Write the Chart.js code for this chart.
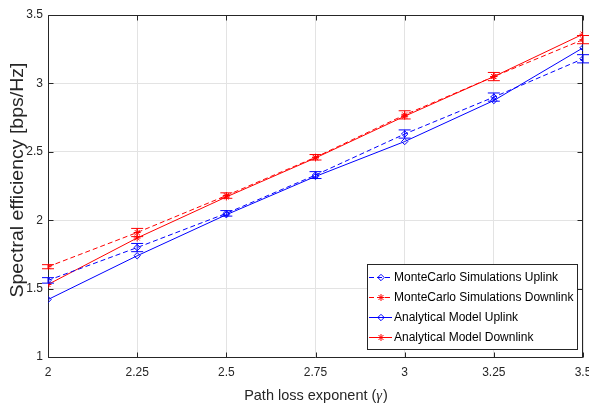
<!DOCTYPE html>
<html><head><meta charset="utf-8">
<script src="https://cdn.jsdelivr.net/npm/chart.js@4.4.0/dist/chart.umd.min.js"></script>
<style>html,body{margin:0;padding:0;background:#fff}#wrap{width:589px;height:407px}</style>
</head><body><div id="wrap"><canvas id="c" width="589" height="407"></canvas></div>
<script>
const pathLoss = [2, 2.25, 2.5, 2.75, 3, 3.25, 3.5];
const mcUplink = [1.56, 1.80, 2.05, 2.33, 2.63, 2.90, 3.18];
const mcDownlink = [1.66, 1.91, 2.18, 2.46, 2.77, 3.05, 3.32];
const anUplink = [1.42, 1.74, 2.04, 2.32, 2.575, 2.875, 3.26];
const anDownlink = [1.53, 1.87, 2.17, 2.455, 2.76, 3.05, 3.36];
const mcUplinkErr = [0.02, 0.03, 0.02, 0.025, 0.03, 0.03, 0.03];
const mcDownlinkErr = [0.015, 0.03, 0.02, 0.02, 0.03, 0.03, 0.03];
const xTicks = [2, 2.25, 2.5, 2.75, 3, 3.25, 3.5];
const yTicks = [1, 1.5, 2, 2.5, 3, 3.5];
const seriesNames = ['MonteCarlo Simulations Uplink','MonteCarlo Simulations Downlink','Analytical Model Uplink','Analytical Model Downlink'];
const xTitle = 'Path loss exponent (';
const xTitleSym = 'γ';
const yTitle = 'Spectral efficiency [bps/Hz]';

const BLUE = '#0000ff', RED = '#ff0000', AX = '#262626';
const FONT = '"Liberation Sans", Arial, sans-serif';
const pts = a => a.map((v,i)=>({x:pathLoss[i], y:v}));
function ds(label, data, color, dashed, marker, err){
  return {label, data: pts(data), borderColor: color, backgroundColor: 'rgba(0,0,0,0)',
    borderWidth: 1, borderDash: dashed?[5,3]:[], pointStyle: marker, pointRadius: marker==='rectRot'?3.2:3.5,
    pointBorderColor: color, pointBorderWidth: 1, pointBackgroundColor: 'rgba(0,0,0,0)', tension: 0, err};
}
const datasets = [
  ds(seriesNames[0], mcUplink, BLUE, true, 'rectRot', mcUplinkErr),
  ds(seriesNames[1], mcDownlink, RED, true, 'star', mcDownlinkErr),
  ds(seriesNames[2], anUplink, BLUE, false, 'rectRot', null),
  ds(seriesNames[3], anDownlink, RED, false, 'star', null)
];

const frame = {
  id:'frame',
  beforeDatasetsDraw(chart){
    const {ctx, chartArea:a, scales:{x,y}} = chart;
    ctx.save();
    ctx.strokeStyle = AX; ctx.lineWidth = 1;
    const L = Math.round(a.left)+0.5, R = Math.round(a.right)-0.5, T = Math.round(a.top)+0.5, B = Math.round(a.bottom)+0.5;
    ctx.beginPath();
    ctx.moveTo(L,T); ctx.lineTo(R,T); ctx.lineTo(R,B); ctx.lineTo(L,B); ctx.closePath();
    xTicks.forEach(v=>{const px=Math.round(x.getPixelForValue(v))+0.5;
      ctx.moveTo(px,B); ctx.lineTo(px,B-5); ctx.moveTo(px,T); ctx.lineTo(px,T+5);});
    yTicks.forEach(v=>{const py=Math.round(y.getPixelForValue(v))+0.5;
      ctx.moveTo(L,py); ctx.lineTo(L+5,py); ctx.moveTo(R,py); ctx.lineTo(R-5,py);});
    ctx.stroke();
    // axis titles
    ctx.fillStyle = AX;
    const F1 = '14.5px ' + FONT, F2 = 'italic 14.5px "Liberation Serif", "Times New Roman", serif';
    ctx.font = F1;
    ctx.textBaseline = 'alphabetic'; ctx.textAlign = 'left';
    const w1 = ctx.measureText(xTitle).width;
    ctx.font = F2;
    const w2 = ctx.measureText(xTitleSym).width;
    ctx.font = F1;
    const w3 = ctx.measureText(')').width;
    let sx = (a.left + a.right)/2 - (w1+w2+w3)/2;
    ctx.fillText(xTitle, sx, 400);
    ctx.font = F2;
    ctx.fillText(xTitleSym, sx+w1, 400);
    ctx.font = F1;
    ctx.fillText(')', sx+w1+w2+1, 400);
    ctx.save();
    ctx.font = '17.5px ' + FONT; ctx.textAlign = 'center';
    const yw = ctx.measureText(yTitle).width;
    ctx.translate(23, 180); ctx.rotate(-Math.PI/2);
    ctx.scale(235 / yw, 1);
    ctx.fillText(yTitle, 0, 0);
    ctx.restore();
    ctx.restore();
  },
  afterDatasetsDraw(chart){
    const {ctx, scales:{x,y}} = chart;
    ctx.save(); ctx.lineWidth = 1;
    chart.data.datasets.forEach(d=>{
      if(!d.err) return;
      ctx.strokeStyle = d.borderColor;
      ctx.beginPath();
      d.data.forEach((p,i)=>{
        const px = x.getPixelForValue(p.x);
        const y1 = y.getPixelForValue(p.y + d.err[i]), y2 = y.getPixelForValue(p.y - d.err[i]);
        ctx.moveTo(px, y1); ctx.lineTo(px, y2);
        ctx.moveTo(px-6, y1); ctx.lineTo(px+6, y1);
        ctx.moveTo(px-6, y2); ctx.lineTo(px+6, y2);
      });
      ctx.stroke();
    });
    // legend
    const L = 367, T = 264, W = 210, H = 85;
    ctx.fillStyle = '#fff'; ctx.fillRect(L, T, W, H);
    ctx.strokeStyle = AX; ctx.strokeRect(L+0.5, T+0.5, W, H);
    ctx.font = '12px ' + FONT;
    ctx.textBaseline = 'middle'; ctx.textAlign = 'left';
    chart.data.datasets.forEach((d,i)=>{
      const cy = T + 13 + i*20;
      ctx.strokeStyle = d.borderColor; ctx.lineWidth = 1;
      ctx.setLineDash(d.borderDash);
      ctx.beginPath(); ctx.moveTo(L+2, cy+0.5); ctx.lineTo(L+25, cy+0.5); ctx.stroke();
      ctx.setLineDash([]);
      ctx.fillStyle = 'rgba(0,0,0,0)';
      Chart.helpers.drawPoint(ctx, {pointStyle: d.pointStyle, radius: d.pointRadius, rotation: 0, borderWidth: 1}, L+14, cy+0.5);
      ctx.fillStyle = '#000';
      ctx.fillText(d.label, L+27, cy+1);
    });
    ctx.restore();
  }
};

new Chart(document.getElementById('c'), {
  type: 'line',
  data: { datasets },
  options: {
    responsive: false, animation: false, devicePixelRatio: 1,
    layout: { padding: { top: 15, right: 6, left: 0, bottom: 0 } },
    plugins: { legend: { display: false }, tooltip: { enabled: false } },
    scales: {
      x: { type: 'linear', min: 2, max: 3.5,
        afterBuildTicks: s => { s.ticks = xTicks.map(v=>({value:v})); },
        afterFit: s => { s.height = 50; s.paddingLeft = 0; s.paddingRight = 0; },
        grid: { color: '#e3e3e3', lineWidth: 1, drawTicks: false },
        border: { display: false },
        ticks: { color: AX, padding: 8, maxRotation: 0, font: { family: FONT, size: 12 },
          callback: v => String(v) },
        title: { display: false }
      },
      y: { type: 'linear', min: 1, max: 3.5,
        afterBuildTicks: s => { s.ticks = yTicks.map(v=>({value:v})); },
        afterFit: s => { s.width = 48; s.paddingTop = 0; s.paddingBottom = 0; },
        grid: { color: '#e3e3e3', lineWidth: 1, drawTicks: false },
        border: { display: false },
        ticks: { color: AX, padding: 5, font: { family: FONT, size: 12 },
          callback: v => String(v) },
        title: { display: false }
      }
    }
  },
  plugins: [frame]
});
</script></body></html>
